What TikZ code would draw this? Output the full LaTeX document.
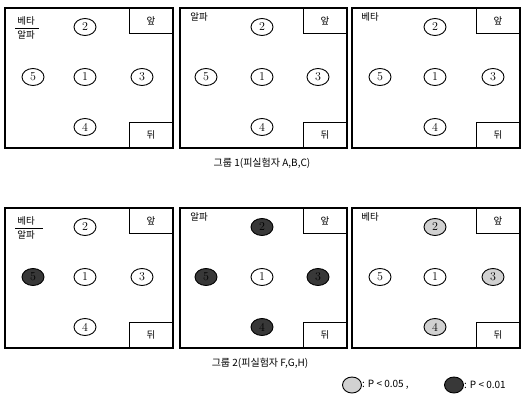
\documentclass[tikz,border=0pt]{standalone}
\usepackage{fontspec}
\newfontfamily\kr{Noto Sans CJK KR}
\usetikzlibrary{shapes.geometric}
\begin{document}
\begin{tikzpicture}[x=1pt,y=-1pt,
  panel/.style={draw=black,line width=1.2pt},
  tagbox/.style={draw=black,line width=0.9pt,minimum width=43pt,minimum height=25pt,inner sep=0pt,font=\kr\fontsize{9.5}{10}\selectfont},
  seat/.style={draw=black,ellipse,line width=0.9pt,minimum width=22pt,minimum height=17pt,inner sep=0pt,font=\fontsize{12}{12}\selectfont},
  dark/.style={fill=black!78},
  light/.style={fill=black!18},
  lbl/.style={font=\kr\fontsize{9.5}{10}\selectfont,inner sep=0pt},
  captext/.style={font=\kr\fontsize{10}{11}\selectfont,inner sep=0pt},
  rulel/.style={line width=0.8pt}]
\useasboundingbox (0,0) rectangle (525,400);

% ---------- Group 1 ----------
% panel 1
\draw[panel] (5,8) rectangle (173,148);
\node[tagbox,anchor=north east] (f1) at (173,8) {앞};
\node[tagbox,anchor=south east] (r1) at (173,148) {뒤};
\node[lbl] (b1) at (26,21) {베타};
\node[lbl] (a1) at (26,35) {알파};
\draw[rulel] (15,28) -- (39,28);
\node[seat] (s1-2) at (85,27) {2};
\node[seat] (s1-5) at (33,77) {5};
\node[seat] (s1-1) at (85,77) {1};
\node[seat] (s1-3) at (142,77) {3};
\node[seat] (s1-4) at (85,127) {4};
% panel 2
\draw[panel] (180,8) rectangle (347,148);
\node[tagbox,anchor=north east] (f2) at (347,8) {앞};
\node[tagbox,anchor=south east] (r2) at (347,148) {뒤};
\node[lbl] (a2) at (199,17) {알파};
\node[seat] (s2-2) at (262,27) {2};
\node[seat] (s2-5) at (206,77) {5};
\node[seat] (s2-1) at (262,77) {1};
\node[seat] (s2-3) at (318,77) {3};
\node[seat] (s2-4) at (262,127) {4};
% panel 3
\draw[panel] (352,8) rectangle (520,148);
\node[tagbox,anchor=north east] (f3) at (520,8) {앞};
\node[tagbox,anchor=south east] (r3) at (520,148) {뒤};
\node[lbl] (b3) at (370,17) {베타};
\node[seat] (s3-2) at (435,27) {2};
\node[seat] (s3-5) at (380,77) {5};
\node[seat] (s3-1) at (435,77) {1};
\node[seat] (s3-3) at (493,77) {3};
\node[seat] (s3-4) at (435,127) {4};
\node[captext] (c1) at (262,163) {그룹 1(피실험자 A,B,C)};

% ---------- Group 2 ----------
% panel 4
\draw[panel] (5,208) rectangle (173,348);
\node[tagbox,anchor=north east] (f4) at (173,208) {앞};
\node[tagbox,anchor=south east] (r4) at (173,348) {뒤};
\node[lbl] (b4) at (26,221) {베타};
\node[lbl] (a4) at (26,235) {알파};
\draw[rulel] (15,228) -- (43,228);
\node[seat] (s4-2) at (85,227) {2};
\node[seat,dark] (s4-5) at (33,277) {5};
\node[seat] (s4-1) at (85,277) {1};
\node[seat] (s4-3) at (142,277) {3};
\node[seat] (s4-4) at (85,327) {4};
% panel 5
\draw[panel] (180,208) rectangle (347,348);
\node[tagbox,anchor=north east] (f5) at (347,208) {앞};
\node[tagbox,anchor=south east] (r5) at (347,348) {뒤};
\node[lbl] (a5) at (199,217) {알파};
\node[seat,dark] (s5-2) at (262,227) {2};
\node[seat,dark] (s5-5) at (206,277) {5};
\node[seat] (s5-1) at (262,277) {1};
\node[seat,dark] (s5-3) at (318,277) {3};
\node[seat,dark] (s5-4) at (262,327) {4};
% panel 6
\draw[panel] (352,208) rectangle (520,348);
\node[tagbox,anchor=north east] (f6) at (520,208) {앞};
\node[tagbox,anchor=south east] (r6) at (520,348) {뒤};
\node[lbl] (b6) at (370,217) {베타};
\node[seat,light] (s6-2) at (435,227) {2};
\node[seat] (s6-5) at (380,277) {5};
\node[seat] (s6-1) at (435,277) {1};
\node[seat,light] (s6-3) at (493,277) {3};
\node[seat,light] (s6-4) at (435,327) {4};
\node[captext] (c2) at (260,363) {그룹 2(피실험자 F,G,H)};

% ---------- Legend ----------
\node[seat,light,minimum width=19pt,minimum height=16pt] (l1) at (352,385) {};
\node[captext,anchor=west] (t1) at (362,385) {: P < 0.05 ,};
\node[seat,dark,minimum width=19pt,minimum height=16pt] (l2) at (454,385) {};
\node[captext,anchor=west] (t2) at (464,385) {: P < 0.01};
\end{tikzpicture}
\end{document}
